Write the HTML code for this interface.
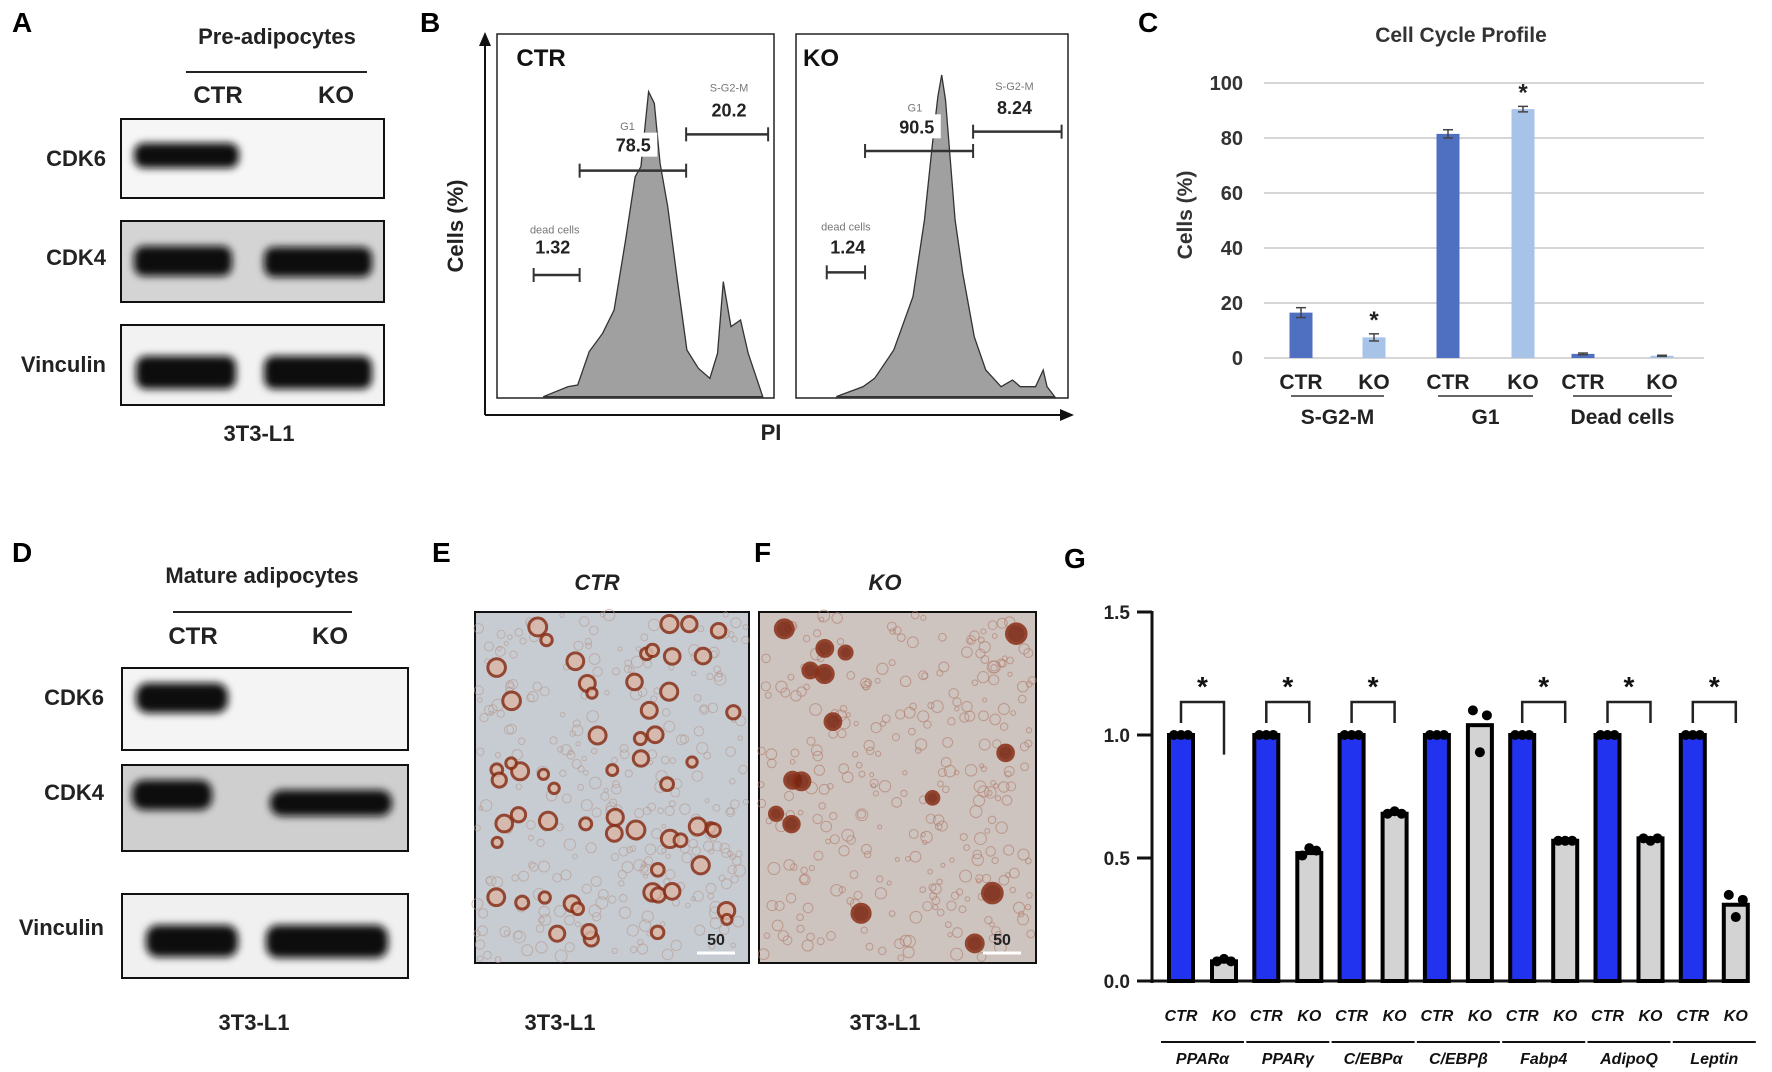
<!DOCTYPE html>
<html><head><meta charset="utf-8"><style>
html,body{margin:0;padding:0;background:#fff;}
svg{display:block;font-family:"Liberation Sans",Arial,sans-serif;}
.b{font-weight:bold;}
</style></head><body>
<svg id="fig" width="1772" height="1072" viewBox="0 0 1772 1072" xmlns="http://www.w3.org/2000/svg">
<defs>
<filter id="blur" x="-30%" y="-60%" width="160%" height="220%"><feGaussianBlur stdDeviation="4"/></filter>
</defs>

<!-- Panel A -->
<g>
<text x="12" y="32" font-size="28" class="b">A</text>
<text x="277" y="44" font-size="22" class="b" text-anchor="middle" fill="#222">Pre-adipocytes</text>
<line x1="186" y1="72" x2="367" y2="72" stroke="#222" stroke-width="2"/>
<text x="218" y="103" font-size="24" class="b" text-anchor="middle" fill="#222">CTR</text>
<text x="336" y="103" font-size="24" class="b" text-anchor="middle" fill="#222">KO</text>
<g>
<rect x="121" y="119" width="263" height="79" fill="#f6f6f6" stroke="#111" stroke-width="2"/>
<rect x="134" y="143" width="105" height="25" rx="10" fill="#0a0a0a" filter="url(#blur)"/>
</g>
<g>
<rect x="121" y="221" width="263" height="81" fill="#d4d4d4" stroke="#111" stroke-width="2"/>
<rect x="134" y="246" width="98" height="30" rx="10" fill="#0a0a0a" filter="url(#blur)"/>
<rect x="264" y="247" width="108" height="30" rx="10" fill="#0a0a0a" filter="url(#blur)"/>
</g>
<g>
<rect x="121" y="325" width="263" height="80" fill="#f2f2f2" stroke="#111" stroke-width="2"/>
<rect x="136" y="356" width="100" height="33" rx="10" fill="#0a0a0a" filter="url(#blur)"/>
<rect x="264" y="356" width="108" height="33" rx="10" fill="#0a0a0a" filter="url(#blur)"/>
</g>
<text x="106" y="166" font-size="22" class="b" text-anchor="end" fill="#222">CDK6</text>
<text x="106" y="265" font-size="22" class="b" text-anchor="end" fill="#222">CDK4</text>
<text x="106" y="372" font-size="22" class="b" text-anchor="end" fill="#222">Vinculin</text>
<text x="259" y="441" font-size="22" class="b" text-anchor="middle" fill="#222">3T3-L1</text>
</g>

<!-- Panel B -->
<g id="panelB">
<text x="420" y="32" font-size="28" class="b">B</text>
<line x1="485" y1="40" x2="485" y2="415" stroke="#111" stroke-width="2"/>
<polygon points="485,32 479,46 491,46" fill="#111"/>
<line x1="485" y1="415" x2="1064" y2="415" stroke="#111" stroke-width="2"/>
<polygon points="1074,415 1060,409 1060,421" fill="#111"/>
<text transform="translate(463,226) rotate(-90)" font-size="22" class="b" text-anchor="middle" fill="#222">Cells (%)</text>
<text x="771" y="440" font-size="22" class="b" text-anchor="middle" fill="#222">PI</text>
<rect x="497" y="34" width="277" height="364" fill="#fff" stroke="#222" stroke-width="1.5"/>
<rect x="796" y="34" width="272" height="364" fill="#fff" stroke="#222" stroke-width="1.5"/>
<g id="flowMarks"></g>
</g>

<!-- Panel C -->
<g>
<text x="1138" y="32" font-size="28" class="b">C</text>
<text x="1461" y="42" font-size="21" class="b" text-anchor="middle" fill="#333">Cell Cycle Profile</text>
<text transform="translate(1192,215) rotate(-90)" font-size="21" class="b" text-anchor="middle" fill="#333">Cells (%)</text>
<g id="chartC"></g>
</g>

<!-- Panel D -->
<g>
<text x="12" y="562" font-size="28" class="b">D</text>
<text x="262" y="583" font-size="22" class="b" text-anchor="middle" fill="#222">Mature adipocytes</text>
<line x1="173" y1="612" x2="352" y2="612" stroke="#222" stroke-width="2"/>
<text x="193" y="644" font-size="24" class="b" text-anchor="middle" fill="#222">CTR</text>
<text x="330" y="644" font-size="24" class="b" text-anchor="middle" fill="#222">KO</text>
<g>
<rect x="122" y="668" width="286" height="82" fill="#f4f4f4" stroke="#111" stroke-width="2"/>
<rect x="136" y="683" width="92" height="30" rx="12" fill="#0a0a0a" filter="url(#blur)"/>
</g>
<g>
<rect x="122" y="765" width="286" height="86" fill="#cfcfcf" stroke="#111" stroke-width="2"/>
<rect x="132" y="780" width="80" height="30" rx="12" fill="#0a0a0a" filter="url(#blur)"/>
<rect x="270" y="790" width="122" height="26" rx="12" fill="#0a0a0a" filter="url(#blur)"/>
</g>
<g>
<rect x="122" y="894" width="286" height="84" fill="#f0f0f0" stroke="#111" stroke-width="2"/>
<rect x="146" y="925" width="92" height="32" rx="12" fill="#0a0a0a" filter="url(#blur)"/>
<rect x="266" y="925" width="122" height="33" rx="12" fill="#0a0a0a" filter="url(#blur)"/>
</g>
<text x="104" y="705" font-size="22" class="b" text-anchor="end" fill="#222">CDK6</text>
<text x="104" y="800" font-size="22" class="b" text-anchor="end" fill="#222">CDK4</text>
<text x="104" y="935" font-size="22" class="b" text-anchor="end" fill="#222">Vinculin</text>
<text x="254" y="1030" font-size="22" class="b" text-anchor="middle" fill="#222">3T3-L1</text>
</g>

<!-- Panels E / F -->
<g>
<text x="432" y="562" font-size="28" class="b">E</text>
<text x="597" y="590" font-size="22" class="b" font-style="italic" text-anchor="middle" fill="#222">CTR</text>
<rect x="475" y="612" width="274" height="351" fill="#c7ccd2" stroke="#111" stroke-width="2"/>
<g id="cellsE"></g>
<text x="716" y="945" font-size="16" class="b" text-anchor="middle" fill="#222">50</text>
<line x1="697" y1="953" x2="735" y2="953" stroke="#fff" stroke-width="3"/>
<text x="560" y="1030" font-size="22" class="b" text-anchor="middle" fill="#222">3T3-L1</text>
</g>
<g>
<text x="754" y="562" font-size="28" class="b">F</text>
<text x="885" y="590" font-size="22" class="b" font-style="italic" text-anchor="middle" fill="#222">KO</text>
<rect x="759" y="612" width="277" height="351" fill="#cdc3bf" stroke="#111" stroke-width="2"/>
<g id="cellsF"></g>
<text x="1002" y="945" font-size="16" class="b" text-anchor="middle" fill="#222">50</text>
<line x1="983" y1="953" x2="1021" y2="953" stroke="#fff" stroke-width="3"/>
<text x="885" y="1030" font-size="22" class="b" text-anchor="middle" fill="#222">3T3-L1</text>
</g>

<!-- Panel G -->
<g>
<text x="1064" y="568" font-size="28" class="b">G</text>
<g id="chartG"></g>
</g>
</svg>

<script>
var NS = "http://www.w3.org/2000/svg";
function mk(parent, tag, attrs, txt){
  var e = document.createElementNS(NS, tag);
  for (var k in attrs) e.setAttribute(k, attrs[k]);
  if (txt !== undefined) e.textContent = txt;
  parent.appendChild(e);
  return e;
}

/* ---------- Panel C data ---------- */
var cGroups = ["S-G2-M", "G1", "Dead cells"];
var cCtr = [16.5, 81.5, 1.5];
var cKo = [7.5, 90.5, 0.8];
var cCtrErr = [1.8, 1.5, 0.3];
var cKoErr = [1.3, 1.0, 0.2];
var cKoSig = [true, true, false];
var cTicks = [0, 20, 40, 60, 80, 100];

/* ---------- Panel G data ---------- */
var gGenes = ["PPARα", "PPARγ", "C/EBPα", "C/EBPβ", "Fabp4", "AdipoQ", "Leptin"];
var gCtr = [1.0, 1.0, 1.0, 1.0, 1.0, 1.0, 1.0];
var gKo = [0.08, 0.52, 0.68, 1.04, 0.57, 0.58, 0.31];
var gKoPts = [[0.08, 0.09, 0.08], [0.51, 0.54, 0.53], [0.68, 0.69, 0.68], [1.10, 0.93, 1.08], [0.57, 0.57, 0.57], [0.58, 0.57, 0.58], [0.35, 0.26, 0.33]];
var gSig = [true, true, true, false, true, true, true];
var gTicks = [0.0, 0.5, 1.0, 1.5];
var gTickLabels = ["0.0", "0.5", "1.0", "1.5"];

/* ---------- Panel B data (histogram outline) ---------- */
var flowCtrX = [165,230,255,285,320,350,380,405,420,440,455,470,490,515,540,570,600,620,635,655,680,700,738];
var flowCtrY = [1130,1100,1095,995,940,870,660,470,440,215,250,430,560,780,990,1045,1075,1000,785,920,900,1000,1130];
var flowKoX = [930,1000,1030,1080,1130,1160,1180,1195,1205,1215,1240,1260,1290,1320,1360,1390,1410,1450,1470,1480,1500];
var flowKoY = [1130,1100,1075,990,830,600,380,230,165,240,600,760,950,1050,1100,1080,1100,1100,1050,1100,1130];

(function drawC(){
  var g = document.getElementById("chartC");
  var x0 = 1264, x1 = 1704;
  function y(v){ return 358 - v / 100 * 275; }
  var ctrX = [1301, 1448, 1583];
  var koX = [1374, 1523, 1662];
  var bw = 23;
  cTicks.forEach(function(t){
    var l = mk(g, "line", {x1:x0, x2:x1, y1:y(t), y2:y(t), stroke:"#d6d6d6", "stroke-width":2});
    
    
    var tx = mk(g, "text", {x:1243, y:y(t)+7, "font-size":20, "font-weight":"bold", "text-anchor":"end", fill:"#333"}, String(t));
    
    
  });
  cGroups.forEach(function(name, i){
    var pairs = [[ctrX[i], cCtr[i], cCtrErr[i], "#4f6fc0", "CTR"], [koX[i], cKo[i], cKoErr[i], "#a8c3e8", "KO"]];
    pairs.forEach(function(p, j){
      var r = mk(g, "rect", {x:p[0]-bw/2, y:y(p[1]), width:bw, height:y(0)-y(p[1]), fill:p[3]});
      
      
      mk(g, "line", {x1:p[0], x2:p[0], y1:y(p[1]+p[2]), y2:y(p[1]-p[2]), stroke:"#444", "stroke-width":1.5});
      mk(g, "line", {x1:p[0]-5, x2:p[0]+5, y1:y(p[1]+p[2]), y2:y(p[1]+p[2]), stroke:"#444", "stroke-width":1.5});
      mk(g, "line", {x1:p[0]-5, x2:p[0]+5, y1:y(p[1]-p[2]), y2:y(p[1]-p[2]), stroke:"#444", "stroke-width":1.5});
      var lt = mk(g, "text", {x:p[0], y:389, "font-size":21, "font-weight":"bold", "text-anchor":"middle", fill:"#222"}, p[4]);
      
      
    });
    if (cKoSig[i]) {
      var s = mk(g, "text", {x:koX[i], y:y(cKo[i]+cKoErr[i])-6, "font-size":24, "font-weight":"bold", "text-anchor":"middle", fill:"#222"}, "*");
      
      
    }
    mk(g, "line", {x1:ctrX[i]-10, x2:koX[i]+10, y1:396, y2:396, stroke:"#333", "stroke-width":1.5});
    var gl = mk(g, "text", {x:(ctrX[i]+koX[i])/2, y:424, "font-size":21, "font-weight":"bold", "text-anchor":"middle", fill:"#222"}, name);
    
    
  });
})();

(function drawG(){
  var g = document.getElementById("chartG");
  var ax = 1152;
  function y(v){ return 981 - v * 246; }
  var bw = 24;
  mk(g, "line", {x1:ax, x2:ax, y1:y(1.5)-1, y2:y(0)+2, stroke:"#111", "stroke-width":3});
  mk(g, "line", {x1:ax, x2:1745, y1:y(0), y2:y(0), stroke:"#111", "stroke-width":3});
  gTicks.forEach(function(t, i){
    mk(g, "line", {x1:ax-15, x2:ax, y1:y(t), y2:y(t), stroke:"#111", "stroke-width":3});
    var tx = mk(g, "text", {x:ax-22, y:y(t)+7, "font-size":19, "font-weight":"bold", "text-anchor":"end", fill:"#222"}, gTickLabels[i]);
    
    
  });
  gGenes.forEach(function(name, i){
    var cx = 1181 + i * 85.3, kx = cx + 43;
    var r1 = mk(g, "rect", {x:cx-bw/2, y:y(gCtr[i]), width:bw, height:y(0)-y(gCtr[i]), fill:"#2233f0", stroke:"#000", "stroke-width":4});
    
    
    var r2 = mk(g, "rect", {x:kx-bw/2, y:y(gKo[i]), width:bw, height:y(0)-y(gKo[i]), fill:"#d3d3d3", stroke:"#000", "stroke-width":4});
    
    
    [-7, 0, 7].forEach(function(d){ mk(g, "circle", {cx:cx+d, cy:y(gCtr[i]), r:5, fill:"#000"}); });
    gKoPts[i].forEach(function(v, k){
      var p = mk(g, "circle", {cx:kx + (k-1)*7, cy:y(v), r:5, fill:"#000"});
      
      
    });
    if (gSig[i]) {
      var top = y(1.0) - 33;
      var rightEnd = gKo[i] < 0.2 ? y(0.92) : y(1.0) - 12;
      mk(g, "polyline", {points:cx+","+(y(1.0)-12)+" "+cx+","+top+" "+kx+","+top+" "+kx+","+rightEnd, fill:"none", stroke:"#222", "stroke-width":2.5});
      var s = mk(g, "text", {x:(cx+kx)/2, y:top-6, "font-size":28, "font-weight":"bold", "text-anchor":"middle", fill:"#111"}, "*");
      
      
    }
    var t1 = mk(g, "text", {x:cx, y:1021, "font-size":16, "font-weight":"bold", "font-style":"italic", "text-anchor":"middle", fill:"#111"}, "CTR");
    
    
    var t2 = mk(g, "text", {x:kx, y:1021, "font-size":16, "font-weight":"bold", "font-style":"italic", "text-anchor":"middle", fill:"#111"}, "KO");
    
    
    mk(g, "line", {x1:cx-20, x2:kx+20, y1:1042, y2:1042, stroke:"#111", "stroke-width":2});
    var gl = mk(g, "text", {x:(cx+kx)/2, y:1064, "font-size":16, "font-weight":"bold", "font-style":"italic", "text-anchor":"middle", fill:"#111"}, name);
    
    
  });
})();

(function drawFlow(){
  var g = document.getElementById("flowMarks");
  function X(z){ return 480 + z / 2.61; }
  function Y(z){ return 20 + z / 3; }
  function poly(xs, ys, nm){
    var pts = xs.map(function(x, i){ return X(x) + "," + Y(ys[i]); }).join(" ");
    var p = mk(g, "polygon", {points:pts, fill:"#a0a0a0", stroke:"#333", "stroke-width":1.3});
    
    
  }
  poly(flowCtrX, flowCtrY, 'histogram-ctr');
  poly(flowKoX, flowKoY, 'histogram-ko');
  function gate(a, b, yy){
    mk(g, "line", {x1:X(a), x2:X(b), y1:Y(yy), y2:Y(yy), stroke:"#333", "stroke-width":2.5});
    mk(g, "line", {x1:X(a), x2:X(a), y1:Y(yy)-7, y2:Y(yy)+7, stroke:"#333", "stroke-width":2});
    mk(g, "line", {x1:X(b), x2:X(b), y1:Y(yy)-7, y2:Y(yy)+7, stroke:"#333", "stroke-width":2});
  }
  function lbl(zx, zy, t, fs, bg){
    if (bg) mk(g, "rect", {x:X(zx)-24, y:Y(zy)-19, width:48, height:24, fill:"#fff"});
    mk(g, "text", {x:X(zx), y:Y(zy), "font-size":fs, "font-weight":fs>12?"bold":"normal", "text-anchor":"middle", fill:fs>12?"#222":"#777"}, t);
  }
  gate(140, 260, 765); gate(260, 538, 452); gate(538, 752, 343);
  gate(905, 1005, 757); gate(1005, 1287, 393); gate(1287, 1518, 335);
  lbl(195, 640, "dead cells", 11); lbl(190, 700, "1.32", 18);
  lbl(385, 330, "G1", 11); lbl(400, 395, "78.5", 18, true);
  lbl(650, 215, "S-G2-M", 11); lbl(650, 290, "20.2", 18);
  lbl(955, 632, "dead cells", 11); lbl(960, 700, "1.24", 18);
  lbl(1135, 275, "G1", 11); lbl(1140, 340, "90.5", 18, true);
  lbl(1395, 210, "S-G2-M", 11); lbl(1395, 282, "8.24", 18);
  mk(g, "text", {x:X(95), y:Y(138), "font-size":24, "font-weight":"bold", fill:"#111"}, "CTR");
  mk(g, "text", {x:X(843), y:Y(138), "font-size":24, "font-weight":"bold", fill:"#111"}, "KO");
})();

/* decorative micrograph texture (not chart data) */
(function drawCells(){
  var seed = 7;
  function rnd(){ seed = (seed * 16807) % 2147483647; return seed / 2147483647; }
  function fill(id, x, y, w, h, n, big, r0, speck){
    var g = document.getElementById(id);
    for (var i = 0; i < 300; i++) {
      mk(g, "circle", {cx:x+rnd()*w, cy:y+rnd()*h, r:2+rnd()*4, fill:"none", stroke:speck, "stroke-width":1, opacity:0.6});
    }
    for (var j = 0; j < n; j++) {
      var r = r0 + rnd()*4;
      mk(g, "circle", {cx:x+10+rnd()*(w-20), cy:y+10+rnd()*(h-20), r:r, fill:big?"#7a2410":"#d9b8a8", stroke:"#8a3018", "stroke-width":big?3:3, opacity:0.85});
    }
  }
  fill("cellsE", 477, 614, 270, 347, 60, false, 5, "#b69a90");
  fill("cellsF", 761, 614, 273, 347, 16, true, 6, "#b07a68");
})();
</script>
</body></html>
